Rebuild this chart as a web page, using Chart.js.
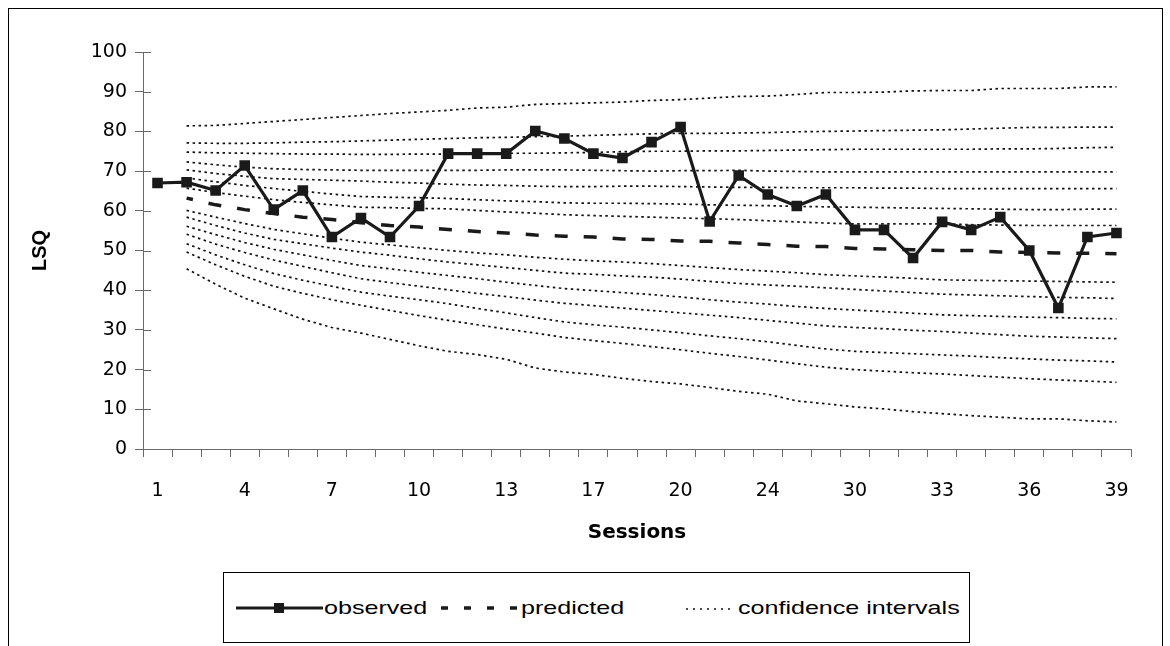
<!DOCTYPE html>
<html><head><meta charset="utf-8">
<script src="https://cdn.jsdelivr.net/npm/chart.js@4/dist/chart.umd.min.js"></script>
<style>
html,body{margin:0;padding:0;background:#fff;overflow:hidden;width:1170px;height:646px;}
#frame{position:absolute;left:8px;top:8px;width:1155px;height:700px;border:1px solid #000;box-sizing:border-box;}
#wrap{position:absolute;left:0;top:0;width:1170px;height:560px;}
#legend{position:absolute;left:223px;top:572px;width:747px;height:71px;border:1px solid #000;box-sizing:border-box;background:#fff;}
.lt{position:absolute;top:596px;font-family:"Liberation Sans",Arial,sans-serif;font-size:19px;color:#000;line-height:24px;white-space:nowrap;transform-origin:0 50%;transform:scaleX(1.32);}
svg.ls{position:absolute;top:598px;}
</style></head>
<body>
<div id="frame"></div>
<div id="wrap"><canvas id="c" width="1170" height="560"></canvas></div>
<div id="legend"></div>
<svg class="ls" style="left:236px" width="87" height="20"><line x1="0" y1="10" x2="87" y2="10" stroke="#1a1a1a" stroke-width="3"/><rect x="38" y="5" width="10" height="10" fill="#1a1a1a"/></svg>
<div class="lt" style="left:324px">observed</div>
<svg class="ls" style="left:441px" width="78" height="20"><line x1="0" y1="10" x2="78" y2="10" stroke="#1a1a1a" stroke-width="3.5" stroke-dasharray="7 16"/></svg>
<div class="lt" style="left:521px">predicted</div>
<svg class="ls" style="left:686px" width="48" height="20"><line x1="0" y1="11" x2="48" y2="11" stroke="#111" stroke-width="1.5" stroke-dasharray="2 5"/></svg>
<div class="lt" style="left:738px">confidence intervals</div>
<script>
const categories = ['1','2','3','4','5','6','7','8','9','10','11','12','13','14','16','17','18','19','20','21','22','24','26','28','30','31','32','33','34','35','36','37','38','39'];
const tickLabelInterval = 3;
const yTicks = {min: 0, max: 100, step: 10};

const observed = [67.0,67.2,65.1,71.4,60.3,65.1,53.4,58.2,53.4,61.2,74.4,74.4,74.4,80.1,78.2,74.4,73.3,77.3,81.1,57.3,68.9,64.1,61.2,64.1,55.2,55.2,48.1,57.2,55.2,58.4,50.0,35.5,53.4,54.4];
const predicted = [null,63.2,61.5,60.3,59.3,58.4,57.8,57.0,56.3,55.9,55.3,54.8,54.4,53.9,53.6,53.4,52.9,52.8,52.4,52.3,51.9,51.5,51.1,51.0,50.5,50.4,50.2,50.0,50.0,49.6,49.5,49.4,49.3,49.2];

const ciUpper1 = [null,81.4,81.5,82.0,82.5,83.0,83.5,84.0,84.5,84.9,85.3,85.9,86.1,86.8,87.0,87.2,87.4,87.8,88.0,88.4,88.8,88.9,89.3,89.8,89.8,89.9,90.2,90.3,90.3,90.8,90.8,90.8,91.2,91.2];
const ciUpper2 = [null,77.1,77.0,77.0,77.1,77.3,77.4,77.6,77.8,78.0,78.2,78.4,78.5,78.7,78.8,79.0,79.2,79.4,79.5,79.5,79.6,79.7,79.9,80.0,80.1,80.2,80.3,80.4,80.6,80.8,81.0,81.0,81.1,81.1];
const ciUpper3 = [null,74.8,74.6,74.5,74.4,74.3,74.3,74.2,74.2,74.3,74.3,74.4,74.5,74.5,74.6,74.7,74.9,75.0,75.0,75.1,75.1,75.2,75.3,75.4,75.5,75.5,75.5,75.5,75.5,75.6,75.6,75.7,75.9,76.0];
const ciUpper4 = [null,72.3,71.6,71.0,70.6,70.4,70.3,70.2,70.2,70.2,70.2,70.2,70.3,70.3,70.3,70.2,70.1,70.0,70.1,70.1,70.2,70.0,69.9,69.8,69.8,69.8,69.8,69.8,69.8,69.8,69.8,69.8,69.8,69.8];
const ciUpper5 = [null,70.3,69.4,68.7,68.1,67.9,67.7,67.5,67.2,67.0,66.7,66.5,66.4,66.2,66.1,66.1,66.2,66.2,66.1,66.0,65.9,65.9,65.8,65.8,65.8,65.7,65.7,65.6,65.6,65.6,65.6,65.6,65.6,65.6];
const ciUpper6 = [null,68.3,67.3,66.4,65.6,64.9,64.2,63.6,63.4,63.3,63.1,62.8,62.5,62.3,62.0,61.9,61.9,61.8,61.7,61.5,61.4,61.3,61.1,61.0,60.9,60.8,60.7,60.6,60.5,60.4,60.3,60.3,60.4,60.4];
const ciUpper7 = [null,65.7,64.6,63.7,62.8,62.1,61.5,60.9,60.8,60.6,60.5,60.1,59.7,59.4,59.0,58.8,58.6,58.4,58.2,58.0,57.8,57.5,57.2,56.9,56.7,56.7,56.7,56.7,56.5,56.4,56.3,56.3,56.3,56.3];
const ciLower1 = [null,60.1,58.4,56.8,55.3,54.2,53.1,52.1,51.4,50.7,50.0,49.4,48.9,48.3,47.8,47.4,47.1,46.7,46.2,45.7,45.2,44.8,44.4,43.9,43.6,43.3,43.0,42.6,42.5,42.4,42.3,42.2,42.1,42.0];
const ciLower2 = [null,58.4,56.3,54.4,52.8,51.7,50.6,49.6,48.8,47.9,47.1,46.4,45.7,45.0,44.3,44.0,43.6,43.3,42.8,42.2,41.7,41.3,41.0,40.6,40.2,39.8,39.4,39.0,38.8,38.6,38.4,38.2,38.1,37.9];
const ciLower3 = [null,56.1,54.0,52.0,50.3,48.9,47.5,46.2,45.4,44.5,43.7,42.9,42.0,41.2,40.4,39.9,39.4,38.9,38.3,37.6,37.0,36.5,35.9,35.4,35.0,34.6,34.2,33.8,33.6,33.4,33.2,33.1,32.9,32.8];
const ciLower4 = [null,54.1,51.6,49.5,47.6,46.0,44.4,42.9,41.9,41.0,40.1,39.2,38.4,37.5,36.7,36.1,35.5,34.9,34.3,33.7,33.1,32.4,31.7,31.0,30.6,30.3,29.9,29.6,29.2,28.8,28.4,28.2,28.0,27.8];
const ciLower5 = [null,51.7,48.9,46.4,44.2,42.5,41.0,39.5,38.5,37.6,36.6,35.4,34.3,33.1,32.0,31.3,30.7,30.0,29.3,28.5,27.8,27.0,26.1,25.2,24.6,24.3,24.0,23.7,23.4,23.0,22.7,22.4,22.2,21.9];
const ciLower6 = [null,49.6,46.4,43.5,41.0,39.2,37.6,36.2,34.9,33.6,32.4,31.3,30.2,29.2,28.1,27.3,26.6,25.8,25.0,24.1,23.3,22.4,21.5,20.6,20.0,19.6,19.2,18.9,18.5,18.1,17.7,17.4,17.1,16.8];
const ciLower7 = [null,45.4,41.5,38.0,35.3,32.7,30.6,29.2,27.6,26.0,24.6,23.8,22.6,20.4,19.4,18.8,17.8,17.0,16.4,15.5,14.5,13.8,12.1,11.4,10.6,10.1,9.4,8.9,8.4,8.0,7.6,7.6,7.1,6.8];

const ciSeries = [ciUpper1,ciUpper2,ciUpper3,ciUpper4,ciUpper5,ciUpper6,ciUpper7,ciLower1,ciLower2,ciLower3,ciLower4,ciLower5,ciLower6,ciLower7];

const TICKFONT = '"DejaVu Sans", "Liberation Sans", sans-serif';
const FONT = '"Liberation Sans", Arial, sans-serif';
const AX = '#6a6a6a';

const datasets = [
  {label:'observed', data: observed, borderColor:'#1a1a1a', backgroundColor:'#1a1a1a', borderWidth:3.2,
   pointStyle:'rect', pointRadius:7.5, pointBorderWidth:0, pointBackgroundColor:'#1a1a1a', tension:0},
  {label:'predicted', data: predicted, borderColor:'#1a1a1a', borderWidth:3.5, borderDash:[13,16], borderDashOffset:6.5,
   pointRadius:0, tension:0}
];
ciSeries.forEach((s, k) => datasets.push({label: k===0 ? 'confidence intervals' : 'ci'+k, data: s,
  borderColor:'#111', borderWidth:1.7, borderDash:[2.5,3.5], pointRadius:0, tension:0}));

const innerTicks = {
  id:'innerTicks',
  afterDraw(chart){
    const y = chart.scales.y, ctx = chart.ctx, x0 = chart.chartArea.left;
    ctx.save(); ctx.strokeStyle = AX; ctx.lineWidth = 1;
    y.ticks.forEach((t, i) => {
      const py = Math.round(y.getPixelForTick(i)) + 0.5;
      ctx.beginPath(); ctx.moveTo(x0, py); ctx.lineTo(x0 + 8, py); ctx.stroke();
    });
    ctx.restore();
  }
};

new Chart(document.getElementById('c'), {
  type:'line',
  data:{labels: categories, datasets},
  options:{
    responsive:false, animation:false, events:[],
    layout:{padding:{left:22, right:39, top:52, bottom:0}},
    plugins:{legend:{display:false}, tooltip:{enabled:false}},
    scales:{
      x:{type:'category', offset:true,
         grid:{display:true, drawOnChartArea:false, drawTicks:true, tickLength:8, color:AX, offset:true},
         border:{display:true, color:AX, width:1},
         ticks:{autoSkip:false, maxRotation:0, color:'#000', padding:23, font:{family:TICKFONT, size:19},
                callback:(v,i)=> i % tickLabelInterval === 0 ? categories[i] : ''},
         title:{display:true, text:'Sessions', color:'#000', font:{family:TICKFONT, size:20, weight:'bold'}, padding:{top:0,bottom:15}},
         afterFit:(s)=>{ s.height = 111; }
      },
      y:{min:yTicks.min, max:yTicks.max,
         grid:{display:true, drawOnChartArea:false, drawTicks:true, tickLength:8, color:AX},
         border:{display:true, color:AX, width:1},
         ticks:{stepSize:yTicks.step, color:'#000', padding:8, font:{family:TICKFONT, size:19}},
         title:{display:true, text:'LSQ', color:'#000', font:{family:FONT, size:20, weight:'bold'}, padding:{top:6,bottom:0}},
         afterFit:(s)=>{ s.width = 121; }
      }
    }
  },
  plugins:[innerTicks]
});
</script>
</body></html>
